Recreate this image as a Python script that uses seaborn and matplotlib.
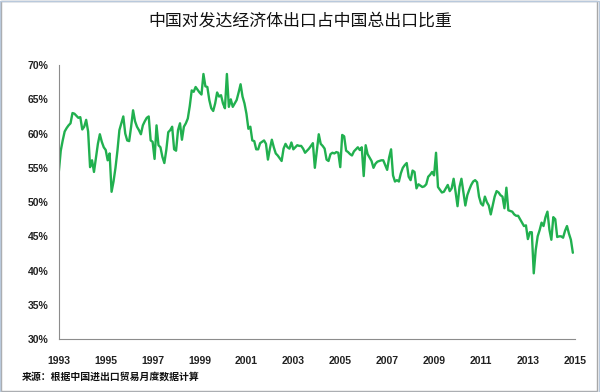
import numpy as np
import pandas as pd
import matplotlib
matplotlib.use("Agg")
import matplotlib.pyplot as plt
import seaborn as sns

title = "中国对发达经济体出口占中国总出口比重"
source = "来源：根据中国进出口贸易月度数据计算"
start_year = 1993

# monthly share (%), Jan 1993 - Dec 2014
share = [
    54.4, 57.5, 59.0, 60.3, 60.8, 61.2, 61.5, 63.0, 62.9, 62.6, 62.3, 62.4,  # 1993
    60.6, 61.0, 62.0, 60.3, 55.1, 56.1, 54.4, 56.4, 58.5, 59.9, 58.8, 58.0,  # 1994
    57.6, 56.1, 57.1, 51.5, 53.0, 55.0, 57.5, 60.5, 61.5, 62.5, 60.0, 59.0,  # 1995
    58.9, 61.0, 63.4, 61.8, 61.0, 60.5, 59.9, 61.2, 61.8, 62.3, 62.5, 59.0,  # 1996
    58.8, 56.3, 61.2, 58.3, 58.0, 56.6, 55.7, 57.6, 60.2, 60.5, 61.0, 57.7,  # 1997
    57.5, 60.5, 61.5, 59.1, 61.0, 61.5, 62.2, 64.0, 66.3, 66.1, 66.8, 66.4,  # 1998
    66.0, 65.7, 68.7, 66.9, 66.8, 64.9, 63.7, 63.3, 64.4, 66.0, 65.4, 65.6,  # 1999
    64.4, 63.7, 68.7, 63.9, 65.0, 63.9, 64.4, 64.9, 66.0, 67.2, 65.4, 64.4,  # 2000
    62.9, 60.7, 61.0, 59.0, 58.9, 57.7, 57.7, 58.6, 58.8, 59.0, 58.5, 56.2,  # 2001
    57.8, 59.1, 58.0, 57.1, 56.8, 56.4, 56.0, 57.8, 58.5, 58.0, 57.8, 58.7,  # 2002
    57.7, 58.0, 58.3, 58.2, 58.2, 57.8, 57.2, 57.5, 57.8, 58.2, 58.6, 55.0,  # 2003
    57.5, 59.9, 58.5, 58.2, 57.8, 56.2, 56.0, 57.0, 57.2, 57.1, 57.3, 57.2,  # 2004
    55.1, 59.8, 59.6, 57.5, 57.3, 57.0, 56.8, 57.4, 57.7, 58.0, 57.6, 58.0,  # 2005
    53.8, 58.3, 57.0, 56.5, 56.0, 55.0, 55.6, 55.9, 56.0, 56.1, 56.1, 55.4,  # 2006
    54.7, 56.5, 57.7, 53.9, 53.0, 53.2, 53.0, 54.2, 55.0, 55.4, 55.7, 53.7,  # 2007
    53.2, 54.6, 54.4, 52.0, 52.6, 52.4, 52.2, 52.3, 52.6, 53.7, 54.0, 54.4,  # 2008
    53.9, 57.2, 52.2, 51.8, 51.4, 51.5, 52.0, 52.5, 51.6, 52.0, 53.4, 51.5,  # 2009
    49.4, 52.2, 53.4, 51.5, 49.5, 51.0, 51.8, 52.5, 53.0, 53.2, 52.9, 50.8,  # 2010
    49.8, 49.5, 50.8, 50.0, 49.5, 48.2, 49.5, 50.8, 51.6, 51.4, 51.0, 50.8,  # 2011
    49.1, 52.1, 48.8, 48.7, 48.6, 48.2, 48.0, 48.0, 47.5, 47.0, 46.5, 46.6,  # 2012
    44.6, 45.6, 45.6, 39.6, 43.0, 45.0, 45.9, 47.0, 46.5, 47.8, 48.6, 46.0,  # 2013
    44.5, 47.8, 47.5, 44.9, 45.0, 45.0, 44.8, 45.8, 46.5, 45.4, 44.5, 42.6,  # 2014
]
x_ticks = list(range(1993, 2016, 2))
y_ticks = list(range(30, 71, 5))

df = pd.DataFrame({"share": share})
df["t"] = start_year + np.arange(len(df)) / 12.0

sns.set_style("white")
plt.rcParams['font.family'] = ['Liberation Sans', 'Noto Sans CJK SC', 'DejaVu Sans']

fig = plt.figure(figsize=(6, 3.92), dpi=100)
ax = fig.add_axes([0.098, 0.135, 0.860, 0.699])

sns.lineplot(data=df, x="t", y="share", color="#21b04f", linewidth=1.7, ax=ax)

ax.set_xlim(1993, 2015)
ax.set_ylim(30, 70)
ax.set_xticks(x_ticks)
ax.set_yticks(y_ticks)
ax.set_yticklabels([f"{v}%" for v in y_ticks])
ax.set_xlabel("")
ax.set_ylabel("")

for s in ["top", "right"]:
    ax.spines[s].set_visible(False)
for s in ["left", "bottom"]:
    ax.spines[s].set_color("#8c8c8c")
    ax.spines[s].set_linewidth(0.8)

ax.tick_params(axis="both", direction="out", length=4, width=0.8, color="#8c8c8c",
               labelsize=7.5, labelcolor="#222222")
ax.tick_params(axis="x", pad=8)
for lab in ax.get_xticklabels() + ax.get_yticklabels():
    lab.set_fontweight("bold")

fig.text(0.5, 0.948, title, ha="center", va="center", fontsize=12.2, fontweight="medium",
         family=['Noto Sans CJK SC', 'DejaVu Sans'], color="#111111")
fig.text(0.037, 0.038, source, ha="left", va="center", fontsize=7.1, fontweight="bold",
         family=['Noto Sans CJK SC', 'DejaVu Sans'], color="#111111")

fig.patches.append(plt.Rectangle((0.002, 0.003), 0.993, 0.994, transform=fig.transFigure,
                                 fill=False, edgecolor="#a8a8a8", linewidth=1.0))
fig.patches.append(plt.Rectangle((0.0, 0.0), 0.998, 0.998, transform=fig.transFigure,
                                 fill=False, edgecolor="#b9c9dc", linewidth=1.0))

fig.savefig("out.png", dpi=100)
